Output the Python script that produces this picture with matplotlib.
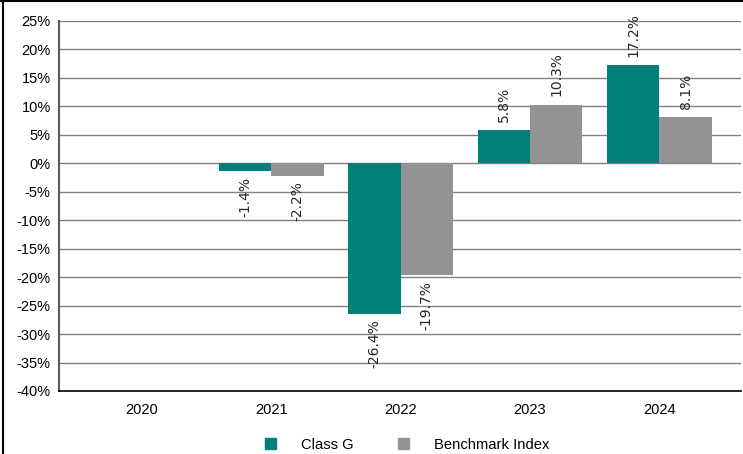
import matplotlib
matplotlib.use("Agg")
from matplotlib import pyplot as plt
from matplotlib.patches import Patch
from matplotlib.lines import Line2D
import numpy as np

years = ["2020", "2021", "2022", "2023", "2024"]
class_g = [np.nan, -1.4, -26.4, 5.8, 17.2]
benchmark = [np.nan, -2.2, -19.7, 10.3, 8.1]
series_names = ["Class G", "Benchmark Index"]

teal = "#008078"
grey = "#939393"

plt.rcParams['font.family'] = ['Liberation Sans', 'DejaVu Sans']

fig = plt.figure(figsize=(7.43, 4.54), dpi=100)
ax = fig.add_axes([59/743, 1 - 391/454, (741 - 59)/743, (391 - 21)/454])

x = np.arange(len(years))
w = 0.405
b1 = ax.bar(x - w/2, class_g, w, color=teal, zorder=3)
b2 = ax.bar(x + w/2, benchmark, w, color=grey, zorder=3)

# rotated value labels, above positive bars and below negative ones
for bars, vals in [(b1, class_g), (b2, benchmark)]:
    for rect, v in zip(bars, vals):
        if np.isnan(v):
            continue
        cx = rect.get_x() + rect.get_width()/2
        if v >= 0:
            ax.annotate(f"{v:.1f}%", (cx, v), xytext=(0, 6), textcoords="offset points",
                        rotation=90, ha="center", va="bottom", fontsize=10,
                        family="DejaVu Sans", color="#262626", zorder=4)
        else:
            ax.annotate(f"{v:.1f}%", (cx, v), xytext=(0, -4), textcoords="offset points",
                        rotation=90, ha="center", va="top", fontsize=10,
                        family="DejaVu Sans", color="#262626", zorder=4)

ax.set_ylim(-40, 25)
ax.set_xlim(-0.64, 4.63)
ax.set_yticks(np.arange(-40, 26, 5))
ax.set_yticklabels([f"{t}%" for t in range(-40, 26, 5)])
ax.set_xticks(x)
ax.set_xticklabels(years)
ax.tick_params(length=0, labelsize=10.5, colors="black")
ax.tick_params(axis="y", pad=6)
ax.tick_params(axis="x", pad=9)
ax.yaxis.grid(True, color="#808080", linewidth=1, zorder=0)
for s in ["top", "right"]:
    ax.spines[s].set_visible(False)
ax.spines["left"].set_color("#595959")
ax.spines["left"].set_linewidth(1.5)
ax.spines["bottom"].set_color("black")
ax.spines["bottom"].set_linewidth(1.2)
ax.spines["bottom"].set_zorder(5)

handles = [Patch(color=teal), Patch(color=grey)]
fig.legend(handles, series_names, loc="center", bbox_to_anchor=(0.548, 0.02),
           ncol=2, frameon=False, fontsize=10.6, handlelength=0.75, handleheight=0.75,
           handletextpad=1.7, columnspacing=3.0)

# outer frame on the left and top
fig.add_artist(Line2D([3/743, 3/743], [0, 1], transform=fig.transFigure, color="black", linewidth=1.5))
fig.add_artist(Line2D([0, 1], [1 - 1/454, 1 - 1/454], transform=fig.transFigure, color="black", linewidth=1.5))

fig.savefig("out.png", dpi=100)
